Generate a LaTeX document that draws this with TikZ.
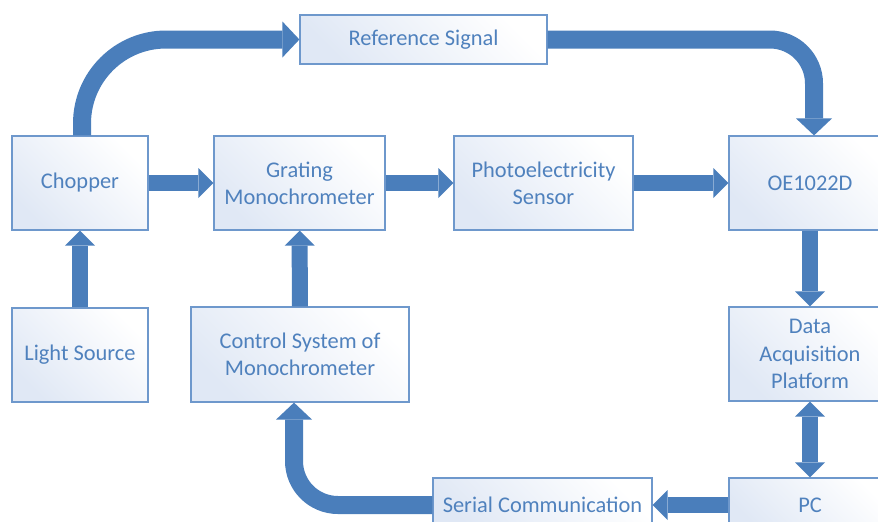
\documentclass[tikz,border=0pt]{standalone}
\usepackage{fontspec}
\setmainfont{Carlito}
\usetikzlibrary{arrows.meta}
\definecolor{arrowblue}{RGB}{74,126,187}
\definecolor{textblue}{RGB}{79,129,189}
\definecolor{boxline}{RGB}{110,152,204}
\definecolor{boxtint}{RGB}{224,232,245}
\tikzset{
  block/.style={draw=boxline, line width=0.6pt, left color=boxtint, right color=white, shading angle=135, text=textblue, align=center, inner sep=0pt, font=\fontsize{11.2}{13.6}\selectfont},
  flowarrow/.style={draw=arrowblue, line width=8pt, -{Triangle[length=7.5pt,width=15pt,line width=0pt]}},
  bentarrow/.style={draw=arrowblue, line width=9pt, -{Triangle[length=8.5pt,width=18pt,line width=0pt]}}
}
\begin{document}
\begin{tikzpicture}[x=0.5pt, y=-0.5pt]
  \clip (0,0) rectangle (878,521);
  % top row
  \node[block, minimum width=68pt, minimum height=47pt] (chopper) at (80,183) {Chopper};
  \node[block, minimum width=85.5pt, minimum height=47pt] (grating) at (299.5,183) {Grating\\Monochrometer};
  \node[block, minimum width=89.5pt, minimum height=47pt] (sensor) at (543.5,183) {Photoelectricity\\Sensor};
  \node[block, minimum width=81pt, minimum height=47pt] (lockin) at (810,183) {OE1022D};
  \node[block, minimum width=123.5pt, minimum height=24.5pt] (refsig) at (423.5,39.5) {Reference Signal};
  % lower rows
  \node[block, minimum width=68pt, minimum height=47pt] (light) at (80,355) {Light Source};
  \node[block, minimum width=109pt, minimum height=47.5pt] (control) at (300,354.5) {Control System of\\Monochrometer};
  \node[block, minimum width=81pt, minimum height=47pt] (daq) at (810,354) {Data\\Acquisition\\Platform};
  \node[block, minimum width=81pt, minimum height=27pt] (pc) at (810,505) {PC};
  \node[block, minimum width=109.5pt, minimum height=27pt] (serial) at (542.5,505) {Serial Communication};

  \draw[flowarrow] (chopper) -- (grating);
  \draw[flowarrow] (grating) -- (sensor);
  \draw[flowarrow] (sensor) -- (lockin);
  \draw[flowarrow] (lockin) -- (daq);
  \draw[flowarrow] (light) -- (chopper);
  \draw[flowarrow] (control) -- (grating);
  \draw[flowarrow, {Triangle[length=7.5pt,width=15pt,line width=0pt]}-{Triangle[length=7.5pt,width=15pt,line width=0pt]}] (daq) -- (pc);
  \draw[flowarrow] (pc) -- (serial);
  % bent arrows
  \draw[bentarrow, rounded corners=42pt] ([xshift=1pt]chopper.north) |- (refsig.west);
  \draw[bentarrow, rounded corners=22pt] (refsig.east) -| ([xshift=2pt]lockin.north);
  \draw[bentarrow, rounded corners=22pt] (serial.west) -| ([xshift=-3pt]control.south);
\end{tikzpicture}
\end{document}
